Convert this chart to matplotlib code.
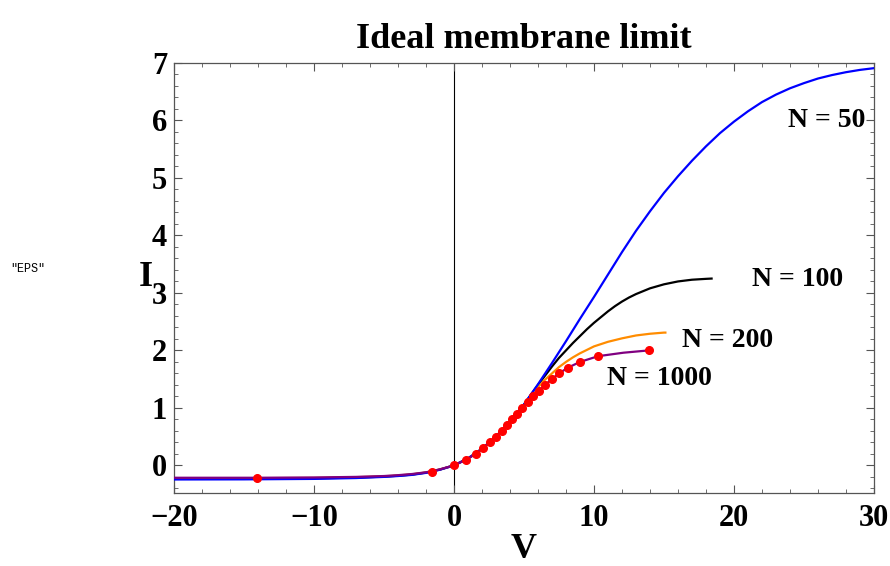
import matplotlib
matplotlib.use("Agg")
import matplotlib.pyplot as plt
from matplotlib.ticker import MultipleLocator

# ---- data ----
v_n50 = [-20, -15, -10, -7, -5, -4, -3, -2, -1, 0, 1, 2, 3, 4, 5, 6, 7, 8, 9, 10,
         11, 12, 13, 14, 15, 16, 17, 18, 19, 20, 21, 22, 23, 24, 25, 26, 27, 28, 29, 30]
i_n50 = [-0.245, -0.243, -0.235, -0.22, -0.2, -0.185, -0.165, -0.13, -0.075, 0.0,
         0.12, 0.29, 0.5, 0.77, 1.06, 1.41, 1.78, 2.16, 2.55, 2.93,
         3.32, 3.71, 4.08, 4.42, 4.74, 5.03, 5.3, 5.55, 5.78, 5.98,
         6.16, 6.32, 6.45, 6.56, 6.65, 6.73, 6.79, 6.84, 6.88, 6.91]

v_n100 = [-20, -15, -10, -7, -5, -4, -3, -2, -1, 0, 1, 2, 3, 4, 5, 6, 6.5, 7, 7.5, 8,
          8.5, 9, 9.5, 10, 10.5, 11, 11.5, 12, 12.5, 13, 13.5, 14, 15, 16, 17, 18, 18.4]
i_n100 = [-0.235, -0.233, -0.225, -0.212, -0.195, -0.18, -0.16, -0.125, -0.072, 0.0,
          0.12, 0.29, 0.5, 0.77, 1.06, 1.40, 1.56, 1.72, 1.87, 2.0,
          2.13, 2.25, 2.37, 2.48, 2.58, 2.68, 2.77, 2.85, 2.92, 2.98, 3.03,
          3.08, 3.15, 3.2, 3.23, 3.245, 3.25]

v_n200 = [-20, -15, -10, -7, -5, -4, -3, -2, -1, 0, 1, 2, 3, 4, 5, 5.5, 6, 6.5, 7, 7.5,
          8, 8.5, 9, 9.5, 10, 11, 12, 13, 14, 15, 15.1]
i_n200 = [-0.225, -0.223, -0.218, -0.205, -0.19, -0.175, -0.155, -0.122, -0.07, 0.0,
          0.12, 0.29, 0.5, 0.77, 1.05, 1.21, 1.36, 1.49, 1.60, 1.71,
          1.80, 1.88, 1.95, 2.01, 2.07, 2.15, 2.21, 2.26, 2.29, 2.31, 2.31]

v_n1000 = [-20, -14, -10, -7, -5, -4, -3, -2, -1.57, -1, 0, 0.86, 1.57, 2.07, 2.57, 3.0,
           3.43, 3.79, 4.14, 4.5, 4.86, 5.29, 5.64, 6.07, 6.5, 7.0, 7.5, 8.14, 9.0,
           10.3, 12.1, 13.9]
i_n1000 = [-0.215, -0.215, -0.21, -0.2, -0.185, -0.17, -0.15, -0.12, -0.1, -0.068, 0.0,
           0.1, 0.2, 0.3, 0.4, 0.5, 0.6, 0.7, 0.8, 0.9, 1.0, 1.1, 1.2, 1.3, 1.4,
           1.5, 1.6, 1.7, 1.8, 1.9, 1.96, 2.0]

v_dots = [-14.1, -1.55, 0, 0.86, 1.57, 2.07, 2.57, 3.0, 3.43, 3.79, 4.14, 4.5, 4.86,
          5.29, 5.64, 6.07, 6.5, 7.0, 7.5, 8.14, 9.0, 10.3, 13.9]
i_dots = [-0.215, -0.11, 0.0, 0.1, 0.2, 0.3, 0.4, 0.5, 0.6, 0.7, 0.8, 0.9, 1.0,
          1.1, 1.2, 1.3, 1.4, 1.5, 1.6, 1.7, 1.8, 1.9, 2.0]

labels = ["N = 50", "N = 100", "N = 200", "N = 1000"]
x_ticks = [-20, -10, 0, 10, 20, 30]
y_ticks = [0, 1, 2, 3, 4, 5, 6, 7]

# ---- figure ----
serif = "Liberation Serif"
fig = plt.figure(figsize=(8.9, 5.66), dpi=100)
ax = fig.add_axes([0.1955, 0.129, 0.7865, 0.7597])

ax.axvline(0, color="black", lw=0.8, zorder=1)
ax.plot(v_n100, i_n100, color="black", lw=1.6, zorder=2)
ax.plot(v_n200, i_n200, color="#FF8C00", lw=1.6, zorder=2)
ax.plot(v_n50, i_n50, color="#0000FF", lw=1.6, zorder=3)
ax.plot(v_n1000, i_n1000, color="#800080", lw=1.6, zorder=4)
ax.plot(v_dots, i_dots, ls="none", marker="o", ms=5.5, color="#FF0000", zorder=5)

ax.set_xlim(-20, 30)
ax.set_ylim(-0.48, 7.0)
ax.set_xticks(x_ticks)
ax.set_yticks(y_ticks)
ax.set_xticklabels([("\u2212" + str(-t)) if t < 0 else str(t) for t in x_ticks])
ax.set_yticklabels([str(t) for t in y_ticks])
ax.xaxis.set_minor_locator(MultipleLocator(2))
ax.yaxis.set_minor_locator(MultipleLocator(0.2))
ax.tick_params(which="both", direction="in", top=True, right=True, color="#555555")
ax.tick_params(which="major", length=6, width=0.8)
ax.tick_params(axis="x", which="major", pad=8)
ax.tick_params(axis="y", which="major", pad=5)
ax.tick_params(which="minor", length=3, width=0.6)
for lab in ax.get_xticklabels() + ax.get_yticklabels():
    lab.set_fontfamily(serif)
    lab.set_fontweight("bold")
    lab.set_fontsize(22)
for sp in ax.spines.values():
    sp.set_color("#555555")
    sp.set_linewidth(0.9)

ax.set_title("Ideal membrane limit", fontfamily=serif, fontweight="bold", fontsize=26, pad=11)
ax.set_xlabel("V", fontfamily=serif, fontweight="bold", fontsize=26, labelpad=0)
ax.set_ylabel("I", fontfamily=serif, fontweight="bold", fontsize=26, rotation=0, labelpad=4, va="center")

lab_kw = dict(fontfamily=serif, fontweight="bold", fontsize=20, va="center")
ax.text(29.4, 6.0, labels[0], ha="right", **lab_kw)
ax.text(21.3, 3.24, labels[1], ha="left", **lab_kw)
ax.text(16.3, 2.17, labels[2], ha="left", **lab_kw)
ax.text(10.9, 1.52, labels[3], ha="left", **lab_kw)

fig.text(10 / 890, 1 - 269 / 566, '"EPS"', fontfamily="Liberation Mono", fontsize=8.5, va="center")

fig.savefig("out.png", dpi=100)
